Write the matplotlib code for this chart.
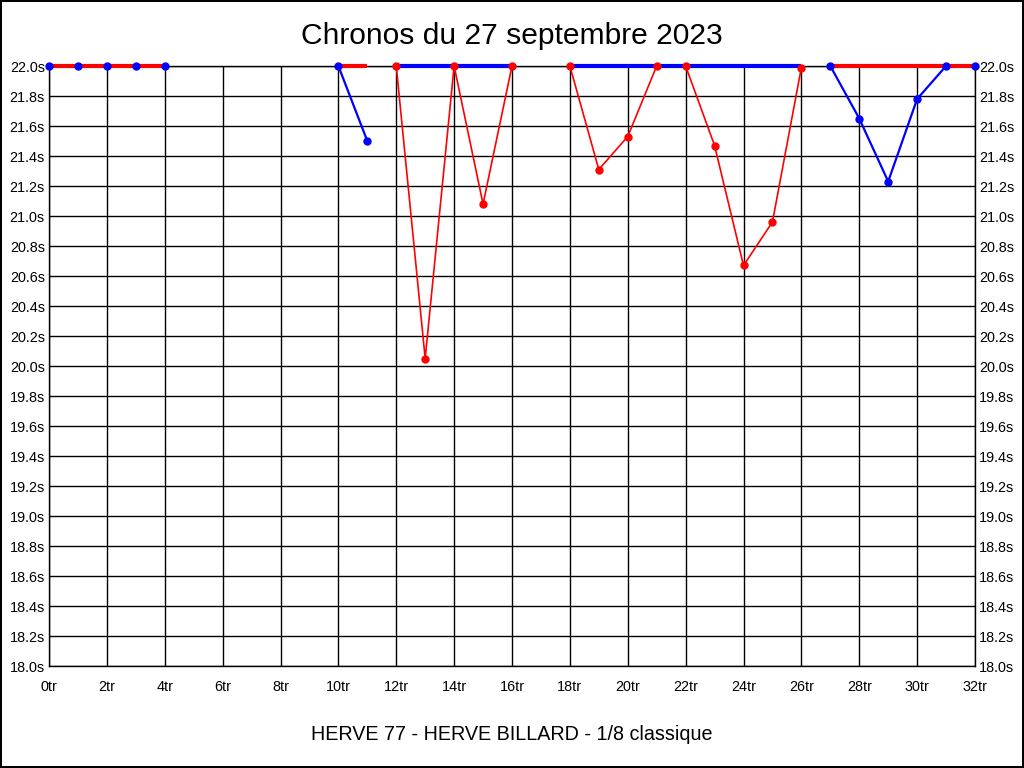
import matplotlib.pyplot as plt
from matplotlib.ticker import FuncFormatter

plt.rcParams['font.family'] = ['Liberation Sans', 'DejaVu Sans']

title = 'Chronos du 27 septembre 2023'
footer = 'HERVE 77 - HERVE BILLARD - 1/8 classique'

# one entry per run of consecutive laps
seg_laps = [
    [0, 1, 2, 3, 4],
    [10, 11],
    [12, 13, 14, 15, 16],
    [18, 19, 20, 21, 22, 23, 24, 25, 26],
    [27, 28, 29, 30, 31, 32],
]
seg_times = [
    [22.0, 22.0, 22.0, 22.0, 22.0],
    [22.0, 21.5],
    [22.0, 20.05, 22.0, 21.08, 22.0],
    [22.0, 21.31, 21.53, 22.0, 22.0, 21.47, 20.67, 20.96, 21.99],
    [22.0, 21.65, 21.23, 21.78, 22.0, 22.0],
]
seg_colors = ['blue', 'blue', 'red', 'red', 'blue']
band_colors = ['red', 'red', 'blue', 'blue', 'red']

y_min, y_max = 18.0, 22.0
x_min, x_max = 0, 32

fig = plt.figure(figsize=(10.24, 7.68), dpi=100, linewidth=1.5, edgecolor='black')
ax = fig.add_axes([49/1024, 1 - 666/768, 926/1024, 600/768])

for laps, times, col, band in zip(seg_laps, seg_times, seg_colors, band_colors):
    ax.plot(laps, times, color=col, lw=1.2 if col == 'red' else 1.6, zorder=2,
            clip_on=False)
    # thick band along the top for the whole run
    ax.plot([laps[0], laps[-1]], [y_max, y_max], color=band, lw=3, zorder=3,
            solid_capstyle='butt', clip_on=False)
    ax.plot(laps, times, ls='none', marker='o', ms=5, mec=col, mfc=col,
            zorder=4, clip_on=False)

ax.set_xlim(x_min, x_max)
ax.set_ylim(y_min, y_max)
ax.set_xticks(range(x_min, x_max + 1, 2))
ax.set_yticks([round(y_min + 0.2 * i, 1) for i in range(21)])
ax.xaxis.set_major_formatter(FuncFormatter(lambda v, p: f'{int(v)}tr'))
ax.yaxis.set_major_formatter(FuncFormatter(lambda v, p: f'{v:.1f}s'))
ax.tick_params(length=0, labelsize=10.4, pad=3, labelright=True, right=True)
ax.tick_params(axis='x', pad=10)
ax.grid(True, color='black', lw=1)
for s in ax.spines.values():
    s.set_color('black')
    s.set_linewidth(1)

fig.text(0.5, 1 - 36/768, title, ha='center', va='center', fontsize=21.6)
fig.text(0.5, 1 - 735/768, footer, ha='center', va='center', fontsize=14.2)

fig.savefig('out.png', dpi=100)
